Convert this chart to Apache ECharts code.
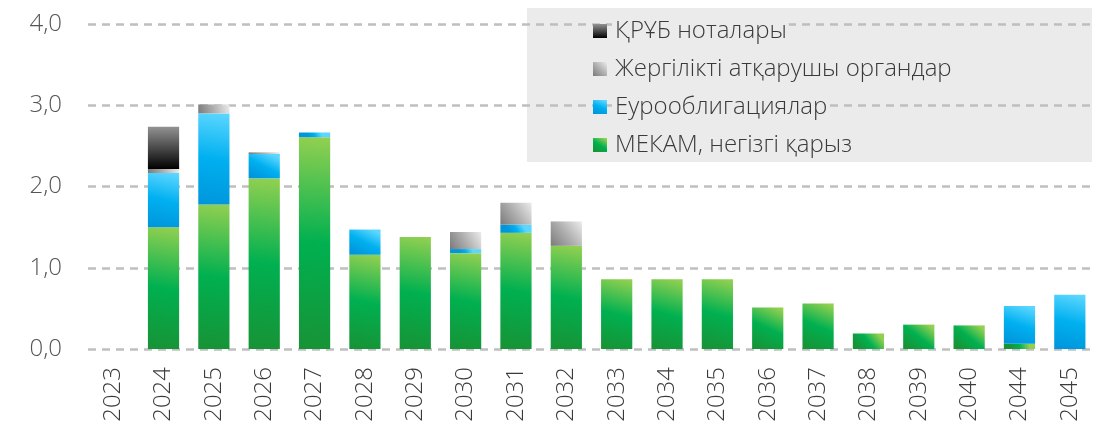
<!DOCTYPE html>
<html>
<head>
<meta charset="utf-8">
<script src="https://cdn.jsdelivr.net/npm/echarts@6/dist/echarts.min.js"></script>
<style>
  html, body { margin: 0; padding: 0; background: #fff; }
  #chart { width: 1107px; height: 430px; }
</style>
</head>
<body>
<div id="chart"></div>
<script>
// years on the x axis
const years = ["2023", "2024", "2025", "2026", "2027", "2028", "2029", "2030", "2031", "2032",
  "2033", "2034", "2035", "2036", "2037", "2038", "2039", "2040", "2044", "2045"];

// series values, trln tenge
const mekam = [0, 1.50, 1.78, 2.10, 2.605, 1.16, 1.38, 1.18, 1.43, 1.27,
  0.86, 0.86, 0.86, 0.51, 0.56, 0.19, 0.30, 0.29, 0.065, 0];
const euro = [0, 0.665, 1.12, 0.30, 0.06, 0.31, 0, 0.05, 0.10, 0,
  0, 0, 0, 0, 0, 0, 0, 0, 0.465, 0.667];
const local = [0, 0.05, 0.11, 0.02, 0, 0, 0, 0.21, 0.27, 0.30,
  0, 0, 0, 0, 0, 0, 0, 0, 0, 0];
const notes = [0, 0.52, 0, 0, 0, 0, 0, 0, 0, 0,
  0, 0, 0, 0, 0, 0, 0, 0, 0, 0];

const yTicks = [0, 1, 2, 3, 4];

const names = {
  notes: "ҚРҰБ ноталары",
  local: "Жергілікті атқарушы органдар",
  euro: "Еурооблигациялар",
  mekam: "МЕКАМ, негізгі қарыз",
};

const chart = echarts.init(document.getElementById("chart"));
const font = "'Open Sans', 'Noto Sans', sans-serif";

const grad = (x1, y1, x2, y2, stops) =>
  new echarts.graphic.LinearGradient(x1, y1, x2, y2,
    stops.map((c, i) => ({ offset: i / (stops.length - 1), color: c })));

const colors = {
  mekam: grad(0.8, 0, 0.2, 1, ["#92d050", "#00b050", "#179336"]),
  euro: grad(0.7, 0, 0.3, 1, ["#5ad6ff", "#00b0f0", "#0096dc"]),
  local: grad(1, 0, 0, 1, ["#ececec", "#b0b0b0", "#7a7a7a"]),
  notes: grad(0, 0, 0, 1, ["#929292", "#4a4a4a", "#000000"]),
};

const makeSeries = (key, data) => ({
  name: names[key],
  type: "bar",
  stack: "total",
  data: data,
  barWidth: "62%",
  itemStyle: { color: colors[key] },
  emphasis: { disabled: true },
});

const option = {
  animation: false,
  textStyle: { fontFamily: font },
  graphic: [
    {
      type: "rect",
      z: -10,
      shape: { x: 527, y: 8, width: 565, height: 154 },
      style: { fill: "#ebebeb" },
    },
  ],
  legend: {
    orient: "vertical",
    left: 588,
    top: 14,
    itemWidth: 14,
    itemHeight: 14,
    itemGap: 14,
    icon: "rect",
    textStyle: {
      color: "#3a3a3a",
      fontSize: 24,
      fontWeight: 300,
      fontFamily: font,
      lineHeight: 24,
      backgroundColor: "#ebebeb",
      padding: [0, 2, 0, 3],
    },
    data: [names.notes, names.local, names.euro, names.mekam],
  },
  grid: {
    left: 88,
    right: 12,
    top: 24,
    bottom: 81,
  },
  xAxis: {
    type: "category",
    data: years,
    axisLine: { show: false },
    axisTick: { show: false },
    axisLabel: {
      rotate: 90,
      margin: 18,
      color: "#3a3a3a",
      fontSize: 24,
      fontWeight: 300,
      fontFamily: font,
    },
  },
  yAxis: {
    type: "value",
    min: yTicks[0],
    max: yTicks[yTicks.length - 1],
    interval: 1,
    axisLine: { show: false },
    axisTick: { show: false },
    axisLabel: {
      margin: 26,
      color: "#555555",
      fontSize: 24,
      fontWeight: 300,
      fontFamily: font,
      formatter: (v) => v.toFixed(1).replace(".", ","),
    },
    splitLine: {
      lineStyle: { color: "#bfbfbf", width: 2.5, type: [8, 6] },
    },
  },
  series: [
    makeSeries("mekam", mekam),
    makeSeries("euro", euro),
    makeSeries("local", local),
    makeSeries("notes", notes),
  ],
};

chart.setOption(option);
</script>
</body>
</html>
